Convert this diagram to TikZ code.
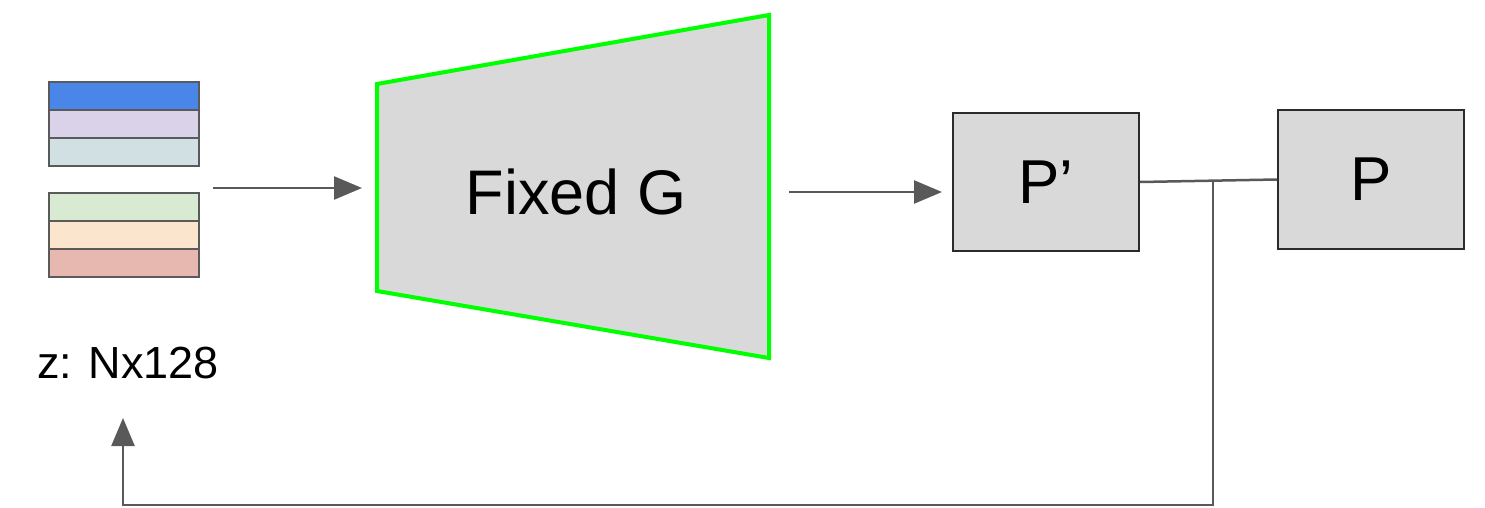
\documentclass[tikz,border=0pt]{standalone}
\usepackage{fontspec}
\setmainfont{Liberation Sans}
\usetikzlibrary{arrows.meta,positioning}
\definecolor{zblue}{HTML}{4A86E8}
\definecolor{zlav}{HTML}{D9D2E9}
\definecolor{zteal}{HTML}{D0E0E3}
\definecolor{zgrn}{HTML}{D9EAD3}
\definecolor{zpeach}{HTML}{FCE5CD}
\definecolor{zpink}{HTML}{E6B8AF}
\definecolor{barln}{HTML}{5A5A5A}
\definecolor{blkfill}{HTML}{D9D9D9}
\definecolor{blkln}{HTML}{2B2B2B}
\definecolor{arrln}{HTML}{595959}
\definecolor{gedge}{HTML}{00FF00}
\tikzset{
  zbar/.style={rectangle, draw=barln, line width=2.5pt, inner sep=0pt, outer sep=0pt,
               minimum width=150pt, minimum height=28pt},
  blk/.style={rectangle, draw=blkln, fill=blkfill, line width=2pt, inner sep=0pt,
              minimum width=186pt, minimum height=138pt, font=\fontsize{62}{64}\selectfont},
  gen/.style={draw=gedge, fill=blkfill, line width=4pt, line join=miter},
  fl/.style={-{Triangle[length=28pt,width=23pt]}, line width=2.5pt, draw=arrln},
  ln/.style={line width=2.5pt, draw=arrln},
}

\begin{document}
\begin{tikzpicture}[x=1pt, y=-1pt]
  \useasboundingbox (0,0) rectangle (1485,508);
  % latent code z, two stacks of rows
  \node[zbar, fill=zblue] (b1) at (124,96) {};
  \node[zbar, fill=zlav, below=0pt of b1] (b2) {};
  \node[zbar, fill=zteal, below=0pt of b2] (b3) {};
  \node[zbar, fill=zgrn] (b4) at (124,207) {};
  \node[zbar, fill=zpeach, below=0pt of b4] (b5) {};
  \node[zbar, fill=zpink, below=0pt of b5] (b6) {};
  \node[anchor=base west, inner sep=0pt, font=\fontsize{45}{47}\selectfont] (zl) at (37,378) {z: Nx128};
  % generator
  \draw[gen] (377,84) -- (769,15) -- (769,358) -- (377,291) -- cycle;
  \node[anchor=base, inner sep=0pt, font=\fontsize{63}{65}\selectfont] (g) at (576,214) {Fixed G};
  % outputs
  \node[blk] (pp) at (1046,182) {P’};
  \node[blk] (p) at (1371,179.5) {P};
  \coordinate (zo) at (213,188);
  \coordinate (gi) at (362,188);
  \coordinate (go) at (789,192);
  \coordinate (ppi) at (942,192);
  \coordinate (j) at (1213,180.7);
  \coordinate (jb) at (1213,505);
  \coordinate (zb) at (123,505);
  \coordinate (zt) at (123,418);
  \draw[fl] (zo) -- (gi);
  \draw[fl] (go) -- (ppi);
  \draw[ln] (pp.east) -- (p.west);
  \draw[fl] (j) -- (jb) -- (zb) -- (zt);
\end{tikzpicture}
\end{document}
